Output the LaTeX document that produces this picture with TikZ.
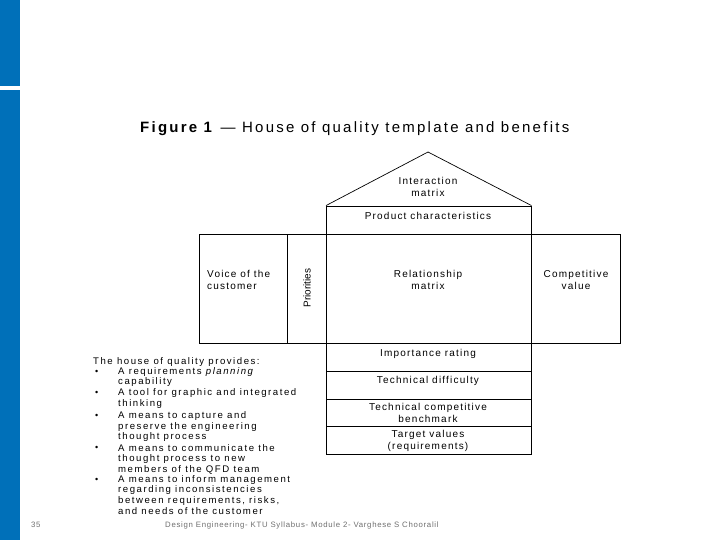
\documentclass[tikz,border=0pt]{standalone}
\usepackage{fontspec}
\setmainfont{Liberation Sans}
\definecolor{slideblue}{RGB}{0,112,185}
\definecolor{footgray}{RGB}{110,110,110}
\begin{document}
\begin{tikzpicture}[x=1pt,y=-1pt,
  box/.style={draw, line width=0.9pt, inner sep=0pt},
  lbl/.style={font=\fontsize{10}{11.5}\selectfont\addfontfeature{LetterSpace=12}, align=center, inner sep=0pt},
  lst/.style={font=\fontsize{9.6}{10}\selectfont\addfontfeature{LetterSpace=16}, anchor=west, inner sep=0pt},
  bul/.style={font=\fontsize{9}{10}\selectfont, anchor=west, inner sep=0pt},
  foot/.style={anchor=west, inner sep=0pt, text=footgray, font=\fontsize{7.8}{9}\selectfont\addfontfeature{LetterSpace=9}}]
\useasboundingbox (0,0) rectangle (720,540);
\fill[slideblue] (0,0) rectangle (20,86);
\fill[slideblue] (0,90) rectangle (20,540);
% title
\node[anchor=west, inner sep=0pt, font=\fontsize{15}{17}\selectfont\addfontfeature{LetterSpace=15}] (title) at (140,129) {\textbf{Figure 1} — House of quality template and benefits};
% boxes
\node[box, minimum width=204.5pt, minimum height=28pt] (pc) at (428.75,220) {};
\node[box, minimum width=88pt, minimum height=109pt] (voc) at (243,288.5) {};
\node[box, minimum width=39pt, minimum height=109pt] (pri) at (306.5,288.5) {};
\node[box, minimum width=204.5pt, minimum height=109pt] (rel) at (428.75,288.5) {};
\node[box, minimum width=89pt, minimum height=109pt] (comp) at (575.5,288.5) {};
\node[box, minimum width=204.5pt, minimum height=28pt] (imp) at (428.75,357) {};
\node[box, minimum width=204.5pt, minimum height=28pt] (tdif) at (428.75,385) {};
\node[box, minimum width=204.5pt, minimum height=27pt] (tcb) at (428.75,412.5) {};
\node[box, minimum width=204.5pt, minimum height=28pt] (tv) at (428.75,440) {};
% roof
\coordinate (apex) at (428,152);
\draw[line width=0.7pt] (pc.north west) -- (apex) -- (pc.north east);
% labels
\node[lbl] (tim) at (428,187) {Interaction\\matrix};
\node[lbl] (tpc) at (428,216) {Product characteristics};
\node[lbl, align=left, anchor=west] (tvoc) at (207,280) {Voice of the\\customer};
\node[inner sep=0pt, font=\fontsize{10}{11}\selectfont, rotate=90] (tpri) at (307,288) {Priorities};
\node[lbl] (trel) at (428,280) {Relationship\\matrix};
\node[lbl] (tcomp) at (576,280) {Competitive\\value};
\node[lbl] (timp) at (428,354) {Importance rating};
\node[lbl] (ttd) at (428,381) {Technical difficulty};
\node[lbl] (ttcb) at (428,413) {Technical competitive\\benchmark};
\node[lbl] (ttv) at (428,441) {Target values\\(requirements)};
% list
\node[lst] (head) at (93,362) {The house of quality provides:};
\node[bul] (b1) at (95,372) {•};
\node[bul] (b2) at (95,393.5) {•};
\node[bul] (b3) at (95,416.5) {•};
\node[bul] (b4) at (95,448.5) {•};
\node[bul] (b5) at (95,480) {•};
\node[lst] (l1) at (118,372) {A requirements \textit{planning}};
\node[lst] (l2) at (118,382.5) {capability};
\node[lst] (l3) at (118,393.5) {A tool for graphic and integrated};
\node[lst] (l4) at (118,404) {thinking};
\node[lst] (l5) at (118,416.5) {A means to capture and};
\node[lst] (l6) at (118,427) {preserve the engineering};
\node[lst] (l7) at (118,437.5) {thought process};
\node[lst] (l8) at (118,448.5) {A means to communicate the};
\node[lst] (l9) at (118,459) {thought process to new};
\node[lst] (l10) at (118,469.5) {members of the QFD team};
\node[lst] (l11) at (118,480) {A means to inform management};
\node[lst] (l12) at (118,490.5) {regarding inconsistencies};
\node[lst] (l13) at (118,501) {between requirements, risks,};
\node[lst] (l14) at (118,511.5) {and needs of the customer};
% footer
\node[foot] (pg) at (31,525) {35};
\node[foot] (ftext) at (165,525) {Design Engineering- KTU Syllabus- Module 2- Varghese S Chooralil};
\end{tikzpicture}
\end{document}
